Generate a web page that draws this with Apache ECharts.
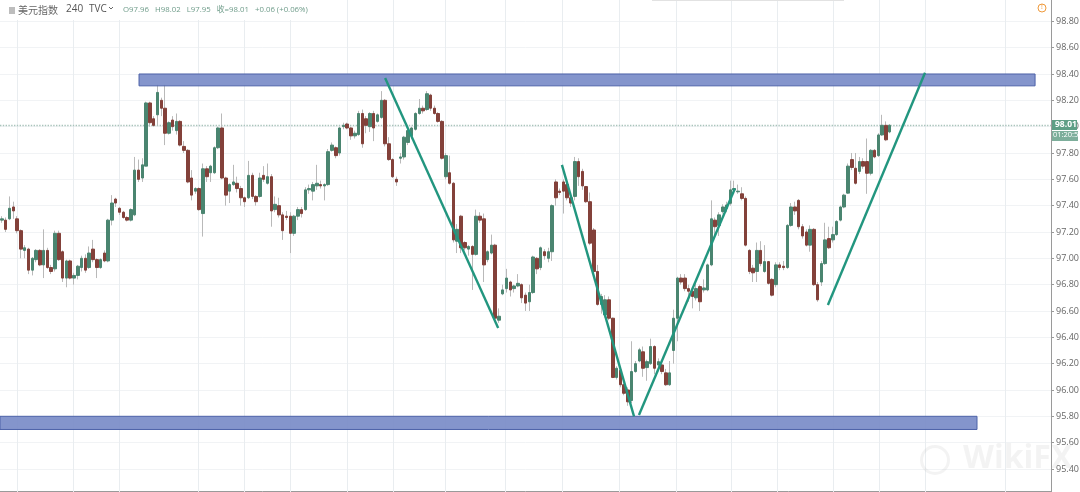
<!DOCTYPE html>
<html><head><meta charset="utf-8">
<style>html,body{margin:0;padding:0;background:#fff}#c{width:1080px;height:492px;filter:blur(0.4px)}</style>
<script src="https://cdn.jsdelivr.net/npm/echarts@6/dist/echarts.min.js"></script>
</head><body><div id="c"></div>
<script>
// [open, close, low, high] of each 4-hour bar
const ohlc = [
[97.29,97.30,97.27,97.32],[97.29,97.22,97.20,97.31],[97.30,97.38,97.29,97.47],[97.39,97.36,97.30,97.43],
[97.30,97.21,97.19,97.32],[97.21,97.07,97.00,97.22],[97.06,97.08,97.00,97.10],[97.07,96.91,96.88,97.08],
[96.91,97.00,96.87,97.01],[96.99,97.06,96.97,97.07],[97.06,96.95,96.94,97.07],[96.95,97.06,96.85,97.22],
[97.06,96.93,96.92,97.08],[96.93,96.90,96.88,96.95],[96.92,97.19,96.90,97.21],[97.19,96.99,96.98,97.21],
[97.05,96.85,96.82,97.06],[96.85,96.98,96.78,96.99],[96.98,96.85,96.84,96.99],[96.85,96.87,96.80,96.89],
[96.87,96.94,96.84,96.95],[96.93,97.00,96.90,97.02],[97.00,96.91,96.89,97.03],[96.93,97.04,96.92,97.09],
[97.07,96.99,96.97,97.14],[96.99,96.93,96.85,97.00],[96.93,96.99,96.92,97.00],[97.04,96.98,96.97,97.06],
[96.98,97.29,96.97,97.30],[97.29,97.42,97.25,97.48],[97.45,97.42,97.39,97.46],
[97.38,97.35,97.33,97.39],[97.35,97.31,97.30,97.36],[97.31,97.29,97.28,97.32],[97.29,97.37,97.28,97.38],
[97.33,97.67,97.32,97.77],[97.67,97.60,97.58,97.75],[97.61,97.71,97.58,97.76],[97.70,98.18,97.70,98.19],
[98.18,98.03,98.00,98.19],[98.06,98.01,98.00,98.08],[98.09,98.26,98.01,98.32],[98.20,98.14,98.08,98.22],
[98.14,97.95,97.86,98.32],[97.95,98.03,97.94,98.04],[98.05,98.00,97.97,98.08],[97.97,98.04,97.94,98.10],
[98.04,97.86,97.85,98.05],[97.85,97.82,97.80,97.89],[97.82,97.58,97.57,97.83],[97.61,97.48,97.44,97.67],
[97.51,97.53,97.49,97.54],[97.53,97.37,97.36,97.54],[97.34,97.68,97.165,97.72],[97.68,97.62,97.58,97.70],
[97.65,97.70,97.58,97.71],[97.65,97.84,97.64,97.85],[97.84,97.99,97.83,98.00],[97.99,97.61,97.60,98.10],
[97.61,97.48,97.40,97.62],[97.51,97.56,97.42,97.57],[97.56,97.58,97.55,97.71],[97.57,97.53,97.50,97.62],
[97.53,97.46,97.40,97.55],[97.46,97.43,97.39,97.47],[97.46,97.63,97.45,97.74],[97.63,97.47,97.45,97.65],
[97.47,97.43,97.40,97.48],[97.47,97.61,97.46,97.65],[97.63,97.60,97.58,97.70],[97.57,97.62,97.56,97.72],
[97.62,97.36,97.24,97.64],[97.37,97.41,97.35,97.47],[97.40,97.33,97.31,97.46],[97.33,97.21,97.14,97.35],
[97.32,97.31,97.29,97.36],[97.32,97.19,97.04,97.35],[97.19,97.32,97.17,97.33],[97.32,97.37,97.29,97.39],
[97.37,97.34,97.31,97.39],[97.37,97.52,97.36,97.54],[97.52,97.53,97.49,97.56],[97.51,97.56,97.44,97.58],
[97.55,97.57,97.52,97.71],[97.56,97.55,97.53,97.59],[97.55,97.56,97.44,97.57],[97.56,97.81,97.55,97.83],
[97.82,97.86,97.81,97.88],[97.84,97.78,97.76,97.85],[97.80,97.99,97.78,98.00],[98.00,98.01,97.98,98.03],
[98.02,97.99,97.98,98.03],[97.99,97.93,97.90,98.00],[97.93,97.95,97.91,97.97],[97.94,98.10,97.93,98.12],
[98.10,97.87,97.84,98.13],[98.06,98.01,97.95,98.08],[98.00,98.10,97.96,98.11],[98.10,97.99,97.89,98.12],
[98.04,98.09,98.03,98.10],[98.07,98.20,98.06,98.27],[98.20,97.87,97.85,98.21],[97.87,97.75,97.74,97.92],
[97.75,97.62,97.61,97.76],[97.60,97.58,97.55,97.62],[97.76,97.77,97.72,97.80],[97.77,97.92,97.75,97.93],
[97.88,97.97,97.86,97.98],[97.93,97.99,97.91,98.00],[97.98,98.10,97.97,98.11],[98.10,98.14,98.09,98.21],
[98.14,98.12,98.10,98.16],[98.13,98.25,98.12,98.27],[98.24,98.14,98.12,98.25],[98.14,98.10,98.09,98.16],
[98.10,98.04,98.03,98.11],[98.04,97.76,97.75,98.05],[97.62,97.78,97.60,97.80],[97.65,97.57,97.56,97.78],
[97.57,97.14,97.12,97.58],[97.13,97.22,97.04,97.26],[97.32,97.08,97.04,97.33],[97.12,97.08,97.06,97.13],
[97.07,97.09,97.02,97.10],[97.09,97.03,96.76,97.10],[97.03,97.32,97.02,97.37],[97.32,97.29,97.27,97.35],
[97.30,96.95,96.82,97.34],[96.99,97.05,96.97,97.06],[97.04,97.10,97.03,97.18],[97.10,96.545,96.53,97.11],
[96.53,96.56,96.51,96.62],[96.73,96.76,96.72,96.80],[96.77,96.85,96.74,96.92],[96.82,96.76,96.71,96.83],
[96.77,96.79,96.74,96.80],[96.79,96.81,96.78,96.88],[96.80,96.70,96.66,96.81],[96.72,96.66,96.60,96.74],
[96.67,96.74,96.60,96.80],[96.74,97.01,96.73,97.02],[97.00,96.92,96.88,97.01],[96.93,97.08,96.91,97.09],
[97.05,97.02,96.99,97.07],[97.00,97.05,96.97,97.08],[97.05,97.40,96.98,97.41],[97.58,97.46,97.40,97.60],
[97.51,97.50,97.48,97.53],[97.58,97.51,97.34,97.60],[97.56,97.46,97.44,97.60],[97.46,97.42,97.39,97.48],
[97.47,97.735,97.44,97.77],[97.735,97.62,97.55,97.76],[97.66,97.55,97.52,97.68],[97.545,97.43,97.42,97.55],
[97.43,97.115,97.10,97.50],[97.215,96.90,96.89,97.23],[96.90,96.65,96.64,96.95],[96.65,96.71,96.58,96.73],
[96.57,96.685,96.55,96.72],[96.685,96.545,96.53,96.71],[96.545,96.095,96.09,96.55],[96.095,96.165,96.08,96.18],
[96.15,96.04,96.02,96.17],[96.04,95.975,95.96,96.05],[96.00,95.91,95.88,96.02],[95.92,96.14,95.90,96.37],
[96.14,96.20,96.13,96.22],[96.22,96.305,96.21,96.32],[96.29,96.165,96.10,96.33],[96.17,96.215,96.07,96.23],
[96.20,96.33,96.19,96.39],[96.33,96.165,96.12,96.34],[96.19,96.215,96.17,96.24],[96.19,96.14,96.12,96.20],
[96.13,96.04,96.03,96.16],[96.04,96.13,96.03,96.22],[96.30,96.545,96.20,96.61],[96.545,96.85,96.37,96.86],
[96.85,96.82,96.80,96.88],[96.85,96.77,96.75,96.88],[96.77,96.75,96.67,96.80],[96.75,96.71,96.62,96.77],
[96.70,96.77,96.68,96.82],[96.785,96.67,96.60,96.80],[96.76,96.775,96.74,96.84],[96.76,96.95,96.75,96.96],
[96.95,97.30,96.94,97.44],[97.29,97.24,97.17,97.31],[97.25,97.33,97.17,97.35],[97.355,97.39,97.34,97.41],
[97.38,97.405,97.35,97.43],[97.418,97.52,97.40,97.59],[97.52,97.53,97.49,97.59],[97.505,97.51,97.49,97.56],
[97.49,97.455,97.44,97.54],[97.455,97.10,97.09,97.47],[97.06,96.90,96.88,97.07],[96.925,96.89,96.82,96.95],
[96.90,97.06,96.82,97.12],[97.06,96.96,96.94,97.13],[96.90,96.975,96.89,97.10],[96.975,96.81,96.80,96.98],
[96.84,96.72,96.71,96.85],[96.80,96.95,96.78,96.97],[96.95,96.93,96.91,96.97],[96.94,96.93,96.91,96.98],
[96.93,97.25,96.92,97.26],[97.25,97.39,97.24,97.42],[97.39,97.36,97.33,97.43],[97.44,97.24,97.22,97.45],
[97.24,97.17,97.15,97.26],[97.20,97.10,97.09,97.22],[97.10,97.22,97.05,97.25],[97.22,96.80,96.79,97.23],
[96.80,96.685,96.67,96.82],[96.82,96.96,96.79,96.98],[96.96,97.14,96.95,97.27],[97.15,97.08,97.07,97.24],
[97.14,97.18,97.12,97.24],[97.18,97.28,97.17,97.29],[97.29,97.39,97.28,97.40],[97.39,97.48,97.38,97.49],
[97.495,97.70,97.49,97.72],[97.75,97.69,97.67,97.80],[97.684,97.57,97.56,97.80],[97.66,97.735,97.64,97.77],
[97.735,97.70,97.68,97.76],[97.735,97.646,97.49,97.91],[97.646,97.82,97.63,97.83],[97.82,97.77,97.76,97.83],
[97.78,97.937,97.77,97.95],[97.937,98.01,97.93,98.09],[98.01,97.90,97.89,98.04],[97.96,98.01,97.95,98.02]
];
const barSlots = 277;                 // bars the time axis has room for, including the empty right side
const lastPrice = 98.01;
const priceTicks = {min: 95.2, max: 99.0, step: 0.2};
// annotations in data units: [bar, price]
const trendLines = [
  [[101.0, 98.37], [130.8, 96.47]],
  [[147.6, 97.71], [166.6, 95.80]],
  [[167.9, 95.81], [193.2, 97.53]],
  [[217.7, 96.645], [243.3, 98.41]]
];
const zones = [
  {from: 36.14, to: 272.3, top: 98.40, bottom: 98.31},
  {from: -0.5, to: 257.0, top: 95.80, bottom: 95.70}
];
const timeGridBars = [4,18.7,30.9,51.7,63.8,75.9,91,103.1,116.8,132.6,147.6,162.7,177.7,192.2,204.3,219,231.2,243.3,264.4];
const headerTitle = ['美元指数', '240', 'TVC'];
const headerQuote = 'O97.96   H98.02   L97.95   收=98.01   +0.06 (+0.06%)';
const priceTag = '98.01', countdownTag = '01:20:55';

const UP='#4a8570', DOWN='#83413a', TEAL='#22967f', FONT='"Open Sans","Noto Sans CJK SC",sans-serif';
const chart = echarts.init(document.getElementById('c'), null, {renderer:'canvas'});
const cats = Array.from({length: barSlots}, (_, i) => String(i));
const bodyData = ohlc.map(([o,c]) => [o, c, Math.min(o,c), Math.max(o,c)]);

chart.setOption({
  animation:false,
  backgroundColor:'#fff',
  grid:{left:0, top:-5, width:1051, height:500.3, containLabel:false, outerBoundsMode:'none'},
  xAxis:[
    {type:'category', data:cats, offset:-4, boundaryGap:true,
     axisLine:{show:true, onZero:false, lineStyle:{color:'#9a9a9a'}}, axisTick:{show:false}, axisLabel:{show:false}, splitLine:{show:false}},
    {type:'value', min:-0.5, max:barSlots-0.5, show:false, splitLine:{show:false}}
  ],
  yAxis:{type:'value', position:'right', min:priceTicks.min, max:priceTicks.max, interval:priceTicks.step,
    axisLine:{show:true, onZero:false, lineStyle:{color:'#9a9a9a'}},
    axisTick:{show:true, length:3, lineStyle:{color:'#9a9a9a'}},
    axisLabel:{color:'#666', fontSize:9, fontFamily:FONT, margin:5,
      formatter:v => (v<95.3||v>98.9) ? '' : v.toFixed(2)},
    splitLine:{show:true, lineStyle:{color:'#f1f3f5', width:1}}
  },
  series:[
    {type:'line', xAxisIndex:1, z:1, data:[], silent:true, showSymbol:false,
     markLine:{z:1, silent:true, symbol:'none', animation:false, label:{show:false},
       lineStyle:{color:'#e9edf0', width:1, type:'solid'},
       data:timeGridBars.map(b => ({xAxis:b}))}},
    {type:'line', xAxisIndex:1, z:1, data:[], silent:true, showSymbol:false,
     markLine:{z:1, silent:true, symbol:'none', animation:false, label:{show:false},
       lineStyle:{color:'#a9c4bb', width:1.4, type:'dotted'},
       data:[{yAxis:lastPrice}]}},
    {type:'candlestick', name:'wick', z:2, barWidth:1, data:ohlc,
     itemStyle:{color:'#b9b9b9', color0:'#b9b9b9', borderColor:'#b9b9b9', borderColor0:'#b9b9b9', borderWidth:1}},
    {type:'candlestick', name:'body', z:3, barWidth:3, data:bodyData,
     itemStyle:{color:UP, color0:DOWN, borderColor:UP, borderColor0:DOWN, borderWidth:1}},
    {type:'line', xAxisIndex:1, z:6, data:[], silent:true, showSymbol:false,
     markArea:{z:6, silent:true, animation:false, label:{show:false},
       itemStyle:{color:'rgba(122,140,200,0.92)', borderColor:'#4d62a8', borderWidth:1},
       data:zones.map(z => [{xAxis:z.from, yAxis:z.top},{xAxis:z.to, yAxis:z.bottom}])}},
    ...trendLines.map(t => ({type:'line', xAxisIndex:1, z:7, data:t, silent:true, symbol:'none',
       lineStyle:{color:TEAL, width:2.4}}))
  ],
  graphic:[
    {type:'rect', shape:{x:0,y:0,width:312,height:20}, style:{fill:'#fff'}, z:10},
    {type:'rect', shape:{x:652,y:0,width:192,height:1}, style:{fill:'#e2e2e2'}, z:10},
    {type:'rect', shape:{x:9,y:7,width:6,height:7}, style:{fill:'#bdbdbd'}, z:11},
    {type:'text', x:18, y:5, z:11, style:{text:headerTitle[0], fill:'#666', font:'10px "Noto Sans CJK SC"'}},
    {type:'text', x:66, y:4, z:11, style:{text:headerTitle[1], fill:'#555', font:'10px '+FONT}},
    {type:'text', x:89, y:4, z:11, style:{text:headerTitle[2], fill:'#555', font:'10px '+FONT}},
    {type:'polyline', z:11, shape:{points:[[109,7],[111,9],[113,7]]}, style:{stroke:'#666', fill:null, lineWidth:1}},
    {type:'text', x:123, y:6, z:11, style:{text:headerQuote, fill:'#6f9c8a', font:'7.8px '+FONT}},
    {type:'circle', z:11, shape:{cx:1042,cy:8,r:4}, style:{fill:'#fff', stroke:'#ef9a3c', lineWidth:1}},
    {type:'text', x:1041, y:4, z:12, style:{text:'!', fill:'#ef9a3c', font:'7px '+FONT}},
    {type:'rect', z:11, shape:{x:1052,y:120,width:25,height:10}, style:{fill:'#5f9f86'}},
    {type:'rect', z:11, shape:{x:1052,y:131,width:26,height:10}, style:{fill:'#7dae9b'}},
    {type:'text', x:1055, y:120.5, z:12, style:{text:priceTag, fill:'#fff', font:'bold 8.5px '+FONT}},
    {type:'text', x:1053, y:131.5, z:12, style:{text:countdownTag, fill:'#fff', font:'7.5px '+FONT}},
    {type:'ring', z:2, shape:{cx:935,cy:460,r:15,r0:12}, style:{fill:'rgba(190,190,190,0.18)'}},
    {type:'text', x:963, y:443, z:2, style:{text:'WikiFX', fill:'rgba(190,190,190,0.18)', font:'bold 32px "Open Sans"'}}
  ]
});
</script></body></html>
